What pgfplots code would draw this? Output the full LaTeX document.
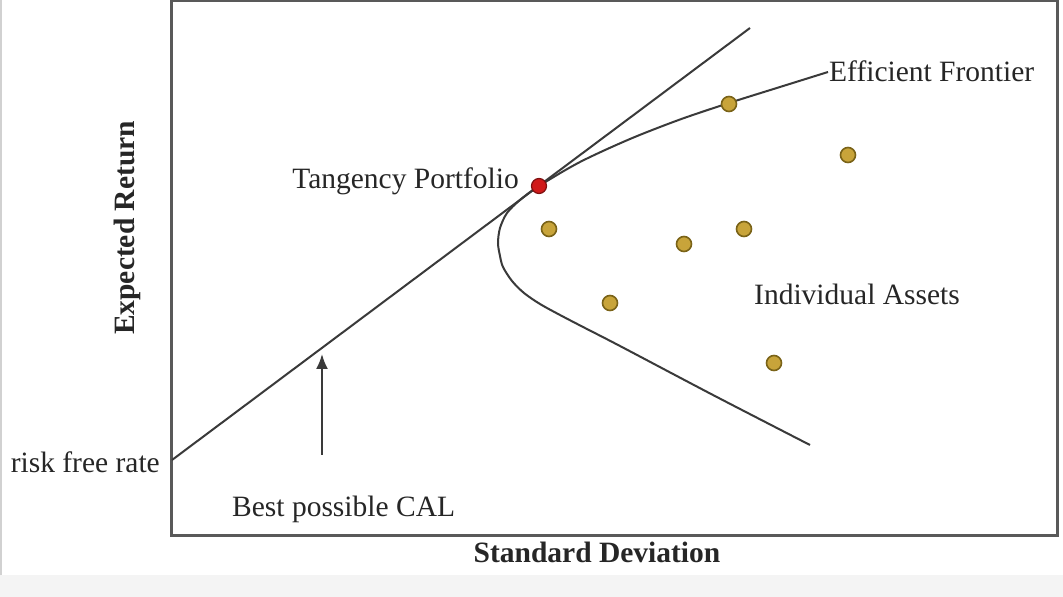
\documentclass[border=0pt]{standalone}
\usepackage{pgfplots}
\pgfplotsset{compat=1.18}
\usetikzlibrary{arrows.meta}
\usepackage{fontspec}
\setmainfont{Liberation Serif}
\definecolor{ln}{HTML}{3A3A3A}
\definecolor{goldf}{HTML}{C8A43A}
\definecolor{golde}{HTML}{7A6318}
\definecolor{redf}{HTML}{D01A1A}
\definecolor{rede}{HTML}{7E1010}
\definecolor{txt}{HTML}{262626}
\definecolor{strip}{HTML}{F4F4F4}
\begin{document}
\begin{tikzpicture}
\fill[white] (-172pt,-61pt) rectangle (891pt,536pt);
\fill[strip] (-172pt,-61pt) rectangle (891pt,-39pt);
\draw[line width=1.5pt, color=black!18] (-171pt,-39pt) -- (-171pt,536pt);
\begin{axis}[
 anchor=south west, at={(0pt,0pt)},
 x=1pt, y=1pt, xmin=0, xmax=885, ymin=0, ymax=535,
 scale only axis, xtick=\empty, ytick=\empty,
 axis line style={line width=3pt, color=black!65},
 clip=false,
 font=\fontsize{29.5}{34}\selectfont,
]
% efficient frontier (minimum-variance curve)
\addplot[ln, line width=2pt, smooth, tension=0.5] coordinates {
(638,91)(541,141)(448,190)(413,208)(388,221)(368,232)(352,243)(340,255)(331,269)(328,280)(326,293)(328,308)(335,323)(348,336)(367,350)(408,374)(458,397)(508,416.5)(557,433)(608,449)(656,464)};
% capital allocation line
\addplot[ln, line width=2pt] coordinates {(0,76)(578,508)};
% individual assets
\addplot[only marks, mark=*, mark size=7.5pt, mark options={fill=goldf, draw=golde, line width=1.6pt}] coordinates {
(377,307)(438,233)(512,292)(572,307)(676,381)(602,173)(557,432)};
% tangency portfolio
\addplot[only marks, mark=*, mark size=7.5pt, mark options={fill=redf, draw=rede, line width=1.2pt}] coordinates {(367,350)};
\draw[ln, line width=2pt, -{Latex[length=15pt,width=12pt]}] (axis cs:150,81) -- (axis cs:150,182);
\node[txt, anchor=base east, inner sep=0pt] at (axis cs:347,347) {Tangency Portfolio};
\node[txt, anchor=base west, inner sep=0pt] at (axis cs:582,231) {Individual Assets};
\node[txt, anchor=base west, inner sep=0pt] at (axis cs:657,454) {Efficient Frontier};
\node[txt, anchor=base east, inner sep=0pt] at (axis cs:-12,63) {risk free rate};
\node[txt, anchor=base west, inner sep=0pt] at (axis cs:60,19) {Best possible CAL};
\node[txt, anchor=base, inner sep=0pt, font=\fontsize{29.5}{34}\selectfont\bfseries] at (axis cs:425,-27) {Standard Deviation};
\node[txt, anchor=center, rotate=90, inner sep=0pt, font=\fontsize{29.5}{34}\selectfont\bfseries] at (axis cs:-45,308) {Expected Return};
\end{axis}
\pgfresetboundingbox
\path[use as bounding box] (-172pt,-61pt) rectangle (891pt,536pt);
\end{tikzpicture}
\end{document}
